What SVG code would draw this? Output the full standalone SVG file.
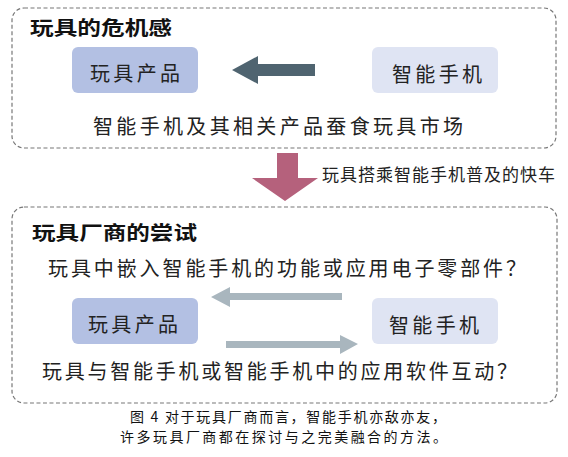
<svg xmlns="http://www.w3.org/2000/svg" width="568" height="457" viewBox="0 0 568 457">
<defs>
<style>
.frame{fill:none;stroke:#777;stroke-width:1.2;stroke-dasharray:4 2.5}
.title{font-family:"Noto Sans CJK SC","Liberation Sans",sans-serif;font-weight:bold;font-size:19px;fill:#111}
.body{font-family:"Noto Sans CJK SC","Liberation Sans",sans-serif;font-size:20px;fill:#222}
.lbl{font-family:"Noto Sans CJK SC","Liberation Sans",sans-serif;font-size:20px;fill:#222}
.small{font-family:"Noto Sans CJK SC","Liberation Sans",sans-serif;font-size:17px;fill:#222}
.cap{font-family:"Noto Sans CJK SC","Liberation Sans",sans-serif;font-size:14px;fill:#111}
.toy{fill:#b3c0e3}
.phone{fill:#dfe4f3}
</style>
</defs>
<rect width="568" height="457" fill="#fff"/>
<rect class="frame" x="12" y="8" width="544" height="140" rx="12"/>
<rect class="frame" x="12" y="207" width="545" height="196" rx="12"/>
<text class="title" x="30" y="35" textLength="142" lengthAdjust="spacingAndGlyphs">玩具的危机感</text>
<text class="title" x="32" y="240" textLength="165" lengthAdjust="spacingAndGlyphs">玩具厂商的尝试</text>
<g id="toy1">
<rect class="toy" x="72" y="47" width="126" height="46" rx="6"/>
<text class="lbl" x="90" y="81" textLength="90">玩具产品</text>
</g>
<g id="phone1">
<rect class="phone" x="372" y="47" width="126" height="46" rx="6"/>
<text class="lbl" x="392" y="82" textLength="90">智能手机</text>
</g>
<g id="toy2">
<rect class="toy" x="72" y="298" width="126" height="46" rx="6"/>
<text class="lbl" x="88" y="332" textLength="90">玩具产品</text>
</g>
<g id="phone2">
<rect class="phone" x="372" y="298" width="126" height="46" rx="6"/>
<text class="lbl" x="389" y="333" textLength="90">智能手机</text>
</g>
<g id="connectors">
<polygon fill="#4f6470" points="315,64 258,64 258,56 232,70 258,84 258,76 315,76"/>
<polygon fill="#b5617c" points="277,153 298,153 298,178 318,178 285,201 252,178 277,178"/>
<polygon fill="#a9b6be" points="342,293 230,293 230,287 211,297 230,307 230,300 342,300"/>
<polygon fill="#a9b6be" points="226,341 340,341 340,335 358,344 340,354 340,348 226,348"/>
</g>
<text class="body" x="93" y="134" textLength="370">智能手机及其相关产品蚕食玩具市场</text>
<text class="small" x="322" y="181" textLength="233">玩具搭乘智能手机普及的快车</text>
<text class="body" x="48" y="276" textLength="478">玩具中嵌入智能手机的功能或应用电子零部件？</text>
<text class="body" x="42" y="379" textLength="475">玩具与智能手机或智能手机中的应用软件互动？</text>
<text class="cap" x="130" y="422" textLength="316">图 4 对于玩具厂商而言，智能手机亦敌亦友，</text>
<text class="cap" x="120" y="442" textLength="327">许多玩具厂商都在探讨与之完美融合的方法。</text>
</svg>
